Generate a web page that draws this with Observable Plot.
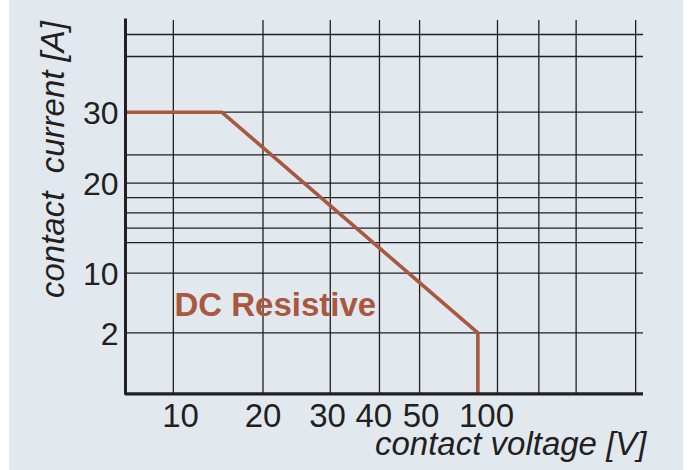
<!DOCTYPE html>
<html><head><meta charset="utf-8">
<script src="https://cdn.jsdelivr.net/npm/d3@7"></script>
<script src="https://cdn.jsdelivr.net/npm/@observablehq/plot@0.6"></script>
<style>
html,body{margin:0;padding:0;}
body{width:691px;height:470px;overflow:hidden;background:linear-gradient(to right,#fff 0,#fff 9px,#e1e9ef 9px,#e1e9ef 683px,#fff 683px);}
#chart svg{display:block;}
</style></head><body><div id="chart"></div>
<script>
// ---- data ----
const xTickLabels = [10, 20, 30, 40, 50, 100];
const yTickLabels = [2, 10, 20, 30];
const xGrid = [8.7, 20, 30.6, 41.2, 49.7, 108.4, 140, 168.5, 214];
const yGrid = [2, 10, 13.4, 15, 16.7, 18.4, 20, 24, 30, 40, 50];
const curveVoltage = [0, 15, 93.4, 93.4];
const curveCurrent = [30, 30, 2, 0];
const seriesName = "DC Resistive";
const seriesLabelAt = [8.9, 4.2];
const xTitle = "contact voltage [V]";
const yTitle = "contact  current [A]";
const xExtent = [0, 220];
const yExtent = [0, 55];

// ---- non-uniform (piecewise) scales as on the datasheet ----
const xBreaks = [0, 10, 20, 30, 40, 50, 100, 220];
const yBreaks = [0, 2, 10, 20, 30, 40, 50, 55];
const xBreakPx = [125, 180, 262.5, 327, 373.3, 420.5, 486, 643];
const yBreakPx = [393.3, 332.3, 272.7, 182.7, 111.7, 56, 34, 20];

const curve = curveVoltage.map((v, i) => ({v, c: curveCurrent[i]}));
const ink = "#231f20";
const red = "#a9573f";

const chart = Plot.plot({
  width: 691,
  height: 470,
  marginLeft: 125,
  marginRight: 48,
  marginTop: 20,
  marginBottom: 76.7,
  style: {background: "transparent", fontFamily: "'Liberation Sans', Arial, sans-serif", color: ink},
  x: {type: "linear", domain: xBreaks, range: xBreakPx},
  y: {type: "linear", domain: yBreaks, range: yBreakPx},
  marks: [
    Plot.ruleY(yGrid, {x1: xExtent[0], x2: xExtent[1], stroke: ink, strokeWidth: 1.3}),
    Plot.ruleX(xGrid, {y1: yExtent[0], y2: yExtent[1], stroke: ink, strokeWidth: 1.3}),
    Plot.line(curve, {x: "v", y: "c", stroke: red, strokeWidth: 3.6, strokeLinejoin: "miter", strokeLinecap: "butt"}),
    Plot.ruleX([xExtent[0]], {y1: yExtent[0], y2: yExtent[1], stroke: ink, strokeWidth: 3, strokeLinecap: "square"}),
    Plot.ruleY([yExtent[0]], {x1: xExtent[0], x2: xExtent[1], stroke: ink, strokeWidth: 3.2}),
    Plot.axisX(xTickLabels, {tickSize: 0, tickPadding: 10, fontSize: 33, fill: ink, label: null}),
    Plot.axisY(yTickLabels, {anchor: "left", tickSize: 0, tickPadding: 7, fontSize: 32, fill: ink, label: null, dy: 2}),
    Plot.text([xTitle], {text: d => d, frameAnchor: "bottom-right", textAnchor: "end", lineAnchor: "bottom", dx: 3, dy: 61, fontSize: 33, fontStyle: "italic", fill: ink}),
    Plot.text([yTitle], {text: d => d, frameAnchor: "left", rotate: -90, textAnchor: "middle", lineAnchor: "bottom", dx: -61.7, dy: -47.6, fontSize: 33, fontStyle: "italic", fill: ink}),
    Plot.text([{label: seriesName, v: seriesLabelAt[0], c: seriesLabelAt[1]}], {x: "v", y: "c", text: "label", textAnchor: "start", lineAnchor: "bottom", fontSize: 33, fontWeight: "bold", fill: red})
  ]
});
document.getElementById("chart").appendChild(chart);
</script>
</body></html>
